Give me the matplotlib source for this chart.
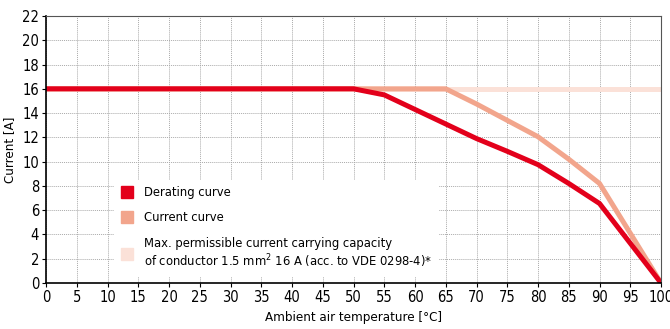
import matplotlib
matplotlib.use('Agg')
import matplotlib.pyplot as plt
from matplotlib.lines import Line2D

plt.rcParams['font.family'] = ['DejaVu Sans']
plt.rcParams['font.stretch'] = 'condensed'

# temperatures [°C] and currents [A]
derating_t = [0, 50, 55, 60, 65, 70, 75, 80, 85, 90, 100]
derating_i = [16, 16, 15.5, 14.3, 13.1, 11.9, 10.85, 9.75, 8.2, 6.55, 0]

current_t = [0, 65, 70, 75, 80, 85, 90, 100]
current_i = [16, 16, 14.75, 13.4, 12.05, 10.2, 8.2, 0]

maxcap_t = [0, 100]
maxcap_i = [16, 16]

red = '#e3001b'
salmon = '#f2a58c'
pale = '#fbe1d8'

fig = plt.figure(figsize=(6.7, 3.29), dpi=100)
ax = fig.add_axes([0.0687, 0.1398, 0.9179, 0.8116])

ax.plot(maxcap_t, maxcap_i, color=pale, lw=3.6, solid_capstyle='butt')
ax.plot(current_t, current_i, color=salmon, lw=3.6, solid_capstyle='butt')
ax.plot(derating_t, derating_i, color=red, lw=3.6, solid_capstyle='butt')

ax.set_xlim(0, 100)
ax.set_ylim(0, 22)
ax.set_xticks(range(0, 101, 5))
ax.set_yticks(range(0, 23, 2))
ax.grid(True, color='#aaaaaa', linestyle=(0, (1, 1)), lw=0.7)
ax.tick_params(labelsize=10.5, length=3, width=0.8, color='black', pad=2)
for s in ['top', 'right']:
    ax.spines[s].set_color('#555555')
for s in ['left', 'bottom']:
    ax.spines[s].set_linewidth(1.2)

ax.set_xlabel('Ambient air temperature [°C]', fontsize=9.5, labelpad=4)
ax.set_ylabel('Current [A]', fontsize=9.5, labelpad=4)

handles = [Line2D([0], [0], marker='s', color='none', markerfacecolor=c,
                  markeredgecolor=c, markersize=8.5) for c in (red, salmon, pale)]
labels = ['Derating curve', 'Current curve',
          'Max. permissible current carrying capacity\n'
          'of conductor 1.5 mm$^2$ 16 A (acc. to VDE 0298-4)*']
leg = ax.legend(handles, labels, loc='lower left', bbox_to_anchor=(0.1, 0.0),
                frameon=True, fontsize=9.3, handlelength=1.0, handletextpad=0.8,
                labelspacing=0.95, borderpad=0.5)
leg.get_frame().set_edgecolor('none')
leg.get_frame().set_facecolor('white')
leg.get_frame().set_alpha(1)

fig.savefig('out.png', dpi=100)
